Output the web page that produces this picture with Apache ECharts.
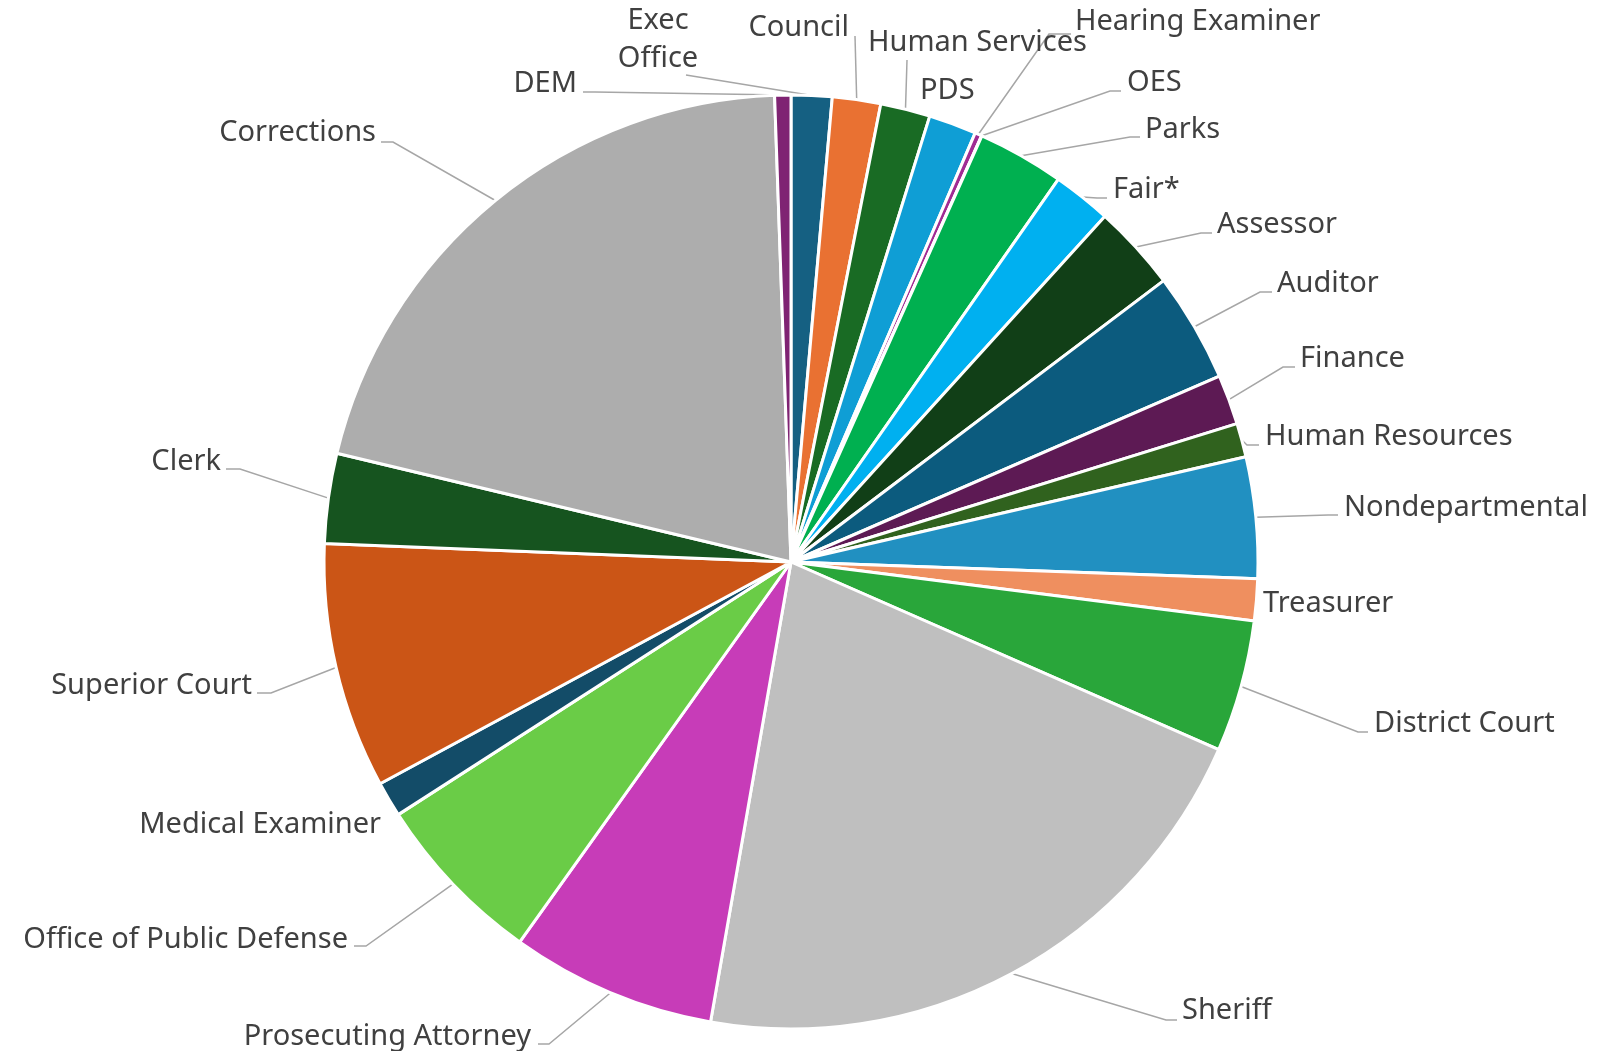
<!DOCTYPE html>
<html>
<head>
<meta charset="utf-8">
<title>Budget by department</title>
<script src="https://cdn.jsdelivr.net/npm/echarts@6/dist/echarts.min.js"></script>
<style>
  html, body { margin: 0; padding: 0; background: #fff; }
  #pie { width: 1602px; height: 1051px; }
</style>
</head>
<body>
<div id="pie"></div>
<script>
// departments, clockwise from 12 o'clock
const departments = [
  'Exec Office', 'Council', 'Human Services', 'PDS', 'Hearing Examiner', 'OES',
  'Parks', 'Fair*', 'Assessor', 'Auditor', 'Finance', 'Human Resources',
  'Nondepartmental', 'Treasurer', 'District Court', 'Sheriff', 'Prosecuting Attorney',
  'Office of Public Defense', 'Medical Examiner', 'Superior Court', 'Clerk',
  'Corrections', 'DEM'
];
// share of the total, in %
const shares = [
  1.41, 1.67, 1.72, 1.65, 0.24, 0.01,
  3.0, 2.03, 2.97, 3.78, 1.72, 1.17,
  4.19, 1.44, 4.56, 21.17, 7.11,
  6.03, 1.22, 8.5, 3.11,
  20.69, 0.56
];
const sliceColors = [
  '#156082', '#e97132', '#196b24', '#0f9ed5', '#a02b93', '#4ea72e',
  '#00b050', '#00b0f0', '#113f17', '#0c5b7e', '#5d1a54', '#30621e',
  '#2190c1', '#ef8f5f', '#29a63a', '#bfbfbf', '#c73cb8',
  '#6acc47', '#134c68', '#cb5516', '#16541f',
  '#adadad', '#7f2373'
];

// label placement: [x, y, align, line end x, line end y, elbow x]
const labelSpots = {
  'Exec Office':              [658, 40, 'center', 686, 75, null],
  'Council':                  [849, 28, 'right', 855, 36, null],
  'Human Services':           [868, 43, 'left', 907, 60, null],
  'PDS':                      [920, 91, 'left', null, null, null],
  'Hearing Examiner':         [1075, 22, 'left', 1071, 34, 1049],
  'OES':                      [1127, 83, 'left', 1121, 91, 1110],
  'Parks':                    [1145, 130, 'left', 1140, 137, 1130],
  'Fair*':                    [1113, 190, 'left', 1107, 198, 1097],
  'Assessor':                 [1217, 225, 'left', 1212, 233, 1201],
  'Auditor':                  [1277, 284, 'left', 1272, 292, 1260],
  'Finance':                  [1300, 359, 'left', 1295, 367, 1283],
  'Human Resources':          [1265, 437, 'left', 1259, 445, 1247],
  'Nondepartmental':          [1344, 508, 'left', 1338, 515, 1328],
  'Treasurer':                [1263, 604, 'left', null, null, null],
  'District Court':           [1374, 724, 'left', 1368, 732, 1358],
  'Sheriff':                  [1182, 1011, 'left', 1177, 1020, 1166],
  'Prosecuting Attorney':     [531, 1037, 'right', 538, 1044, 549],
  'Office of Public Defense': [348, 940, 'right', 354, 946, 366],
  'Medical Examiner':         [381, 825, 'right', null, null, null],
  'Superior Court':           [252, 686, 'right', 257, 693, 271],
  'Clerk':                    [221, 462, 'right', 226, 469, 240],
  'Corrections':              [376, 133, 'right', 381, 142, 393],
  'DEM':                      [577, 84, 'right', 583, 92, 595]
};

const CX = 791, CY = 562, R = 467;
const total = shares.reduce((a, b) => a + b, 0);

// middle of slice i, radians clockwise from 12 o'clock
function midAngle(i) {
  let before = 0;
  for (let k = 0; k < i; k++) before += shares[k];
  return (before + shares[i] / 2) / total * Math.PI * 2;
}

const chart = echarts.init(document.getElementById('pie'));
chart.setOption({
  animation: false,
  series: [{
    type: 'pie',
    center: [CX, CY],
    radius: R,
    startAngle: 90,
    clockwise: true,
    avoidLabelOverlap: false,
    emphasis: { disabled: true },
    itemStyle: { borderColor: '#fff', borderWidth: 3 },
    label: {
      show: true,
      position: 'outside',
      color: '#404040',
      fontFamily: 'Noto Sans',
      fontSize: 29,
      lineHeight: 38,
      overflow: 'none'
    },
    labelLine: {
      show: true,
      length: 10,
      length2: 10,
      lineStyle: { color: '#a6a6a6', width: 1.5 }
    },
    labelLayout: function (p) {
      const s = labelSpots[departments[p.dataIndex]];
      const out = { x: s[0], y: s[1], align: s[2], verticalAlign: 'middle' };
      if (s[3] != null) {
        const a = midAngle(p.dataIndex);
        const pts = [[CX + R * Math.sin(a), CY - R * Math.cos(a)]];
        if (s[5] != null) pts.push([s[5], s[4]]);
        pts.push([s[3], s[4]]);
        out.labelLinePoints = pts;
      }
      return out;
    },
    data: departments.map((name, i) => ({
      name: name,
      value: shares[i],
      itemStyle: { color: sliceColors[i] },
      label: name === 'Exec Office' ? { formatter: 'Exec\nOffice' } : {},
      labelLine: { show: labelSpots[name][3] != null }
    }))
  }]
});
</script>
</body>
</html>
